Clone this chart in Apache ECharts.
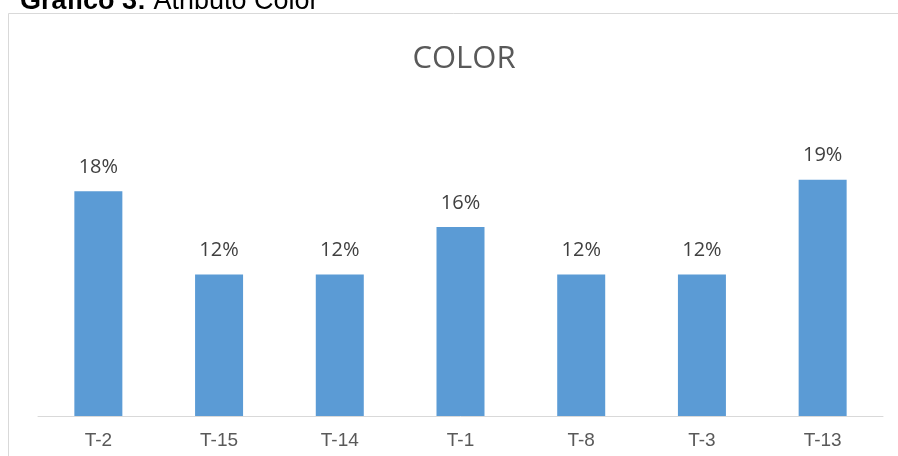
<!DOCTYPE html>
<html>
<head>
<meta charset="utf-8">
<script src="https://cdn.jsdelivr.net/npm/echarts@6/dist/echarts.min.js"></script>
<style>
  html, body { margin: 0; padding: 0; background: #ffffff; }
  #chart { width: 898px; height: 456px; }
</style>
</head>
<body>
<div id="chart"></div>
<script>
// Data
const categories = ['T-2', 'T-15', 'T-14', 'T-1', 'T-8', 'T-3', 'T-13'];
const values = [0.1846, 0.1162, 0.1162, 0.1553, 0.1162, 0.1162, 0.1942];
const chartTitle = 'COLOR';
const headerBold = 'Gráfico 3:';
const headerRegular = ' Atributo Color';

const chart = echarts.init(document.getElementById('chart'), null, { renderer: 'canvas' });

const option = {
  backgroundColor: '#ffffff',
  animation: false,
  title: {
    text: chartTitle,
    left: 459,
    textAlign: 'center',
    top: 39,
    textStyle: {
      fontFamily: 'Open Sans',
      fontSize: 31,
      fontWeight: 'normal',
      color: '#595959'
    }
  },
  graphic: [
    {
      type: 'rect',
      z: -10,
      shape: { x: 8.5, y: 13.5, width: 1000, height: 1000 },
      style: { fill: 'none', stroke: '#d9d9d9', lineWidth: 1 }
    },
    {
      type: 'text',
      left: 20,
      top: -12,
      style: {
        text: '{b|' + headerBold + '}{r|' + headerRegular + '}',
        rich: {
          b: { fontFamily: 'Liberation Sans', fontWeight: 'bold', fontSize: 27, fill: '#000000' },
          r: { fontFamily: 'Liberation Sans', fontWeight: 'normal', fontSize: 27, fill: '#000000' }
        }
      }
    }
  ],
  grid: {
    left: 38,
    right: 15,
    top: 111.75,
    bottom: 40,
    containLabel: false
  },
  xAxis: {
    type: 'category',
    data: categories,
    axisLine: { show: true, lineStyle: { color: '#d9d9d9', width: 1 } },
    axisTick: { show: false },
    axisLabel: {
      margin: 15,
      fontFamily: 'Liberation Sans',
      fontSize: 19,
      color: '#595959'
    }
  },
  yAxis: {
    type: 'value',
    min: 0,
    max: 0.25,
    interval: 0.05,
    show: false,
    splitLine: { show: false }
  },
  series: [
    {
      type: 'bar',
      data: values,
      barWidth: 48,
      itemStyle: { color: '#5b9bd5' },
      label: {
        show: true,
        position: 'top',
        distance: 14,
        fontFamily: 'Open Sans',
        fontSize: 20,
        color: '#404040',
        formatter: function (p) { return Math.round(p.value * 100) + '%'; }
      }
    }
  ]
};

chart.setOption(option);
</script>
</body>
</html>
